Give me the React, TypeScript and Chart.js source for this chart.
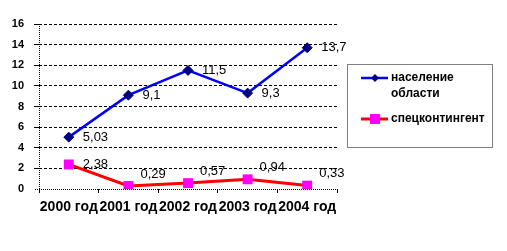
import React, { useEffect, useRef } from "react";
import { Chart, registerables } from "chart.js";

Chart.register(...registerables);

const categories = ["2000 год", "2001 год", "2002 год", "2003 год", "2004 год"];
const populationValues = [5.03, 9.1, 11.5, 9.3, 13.7];
const contingentValues = [2.38, 0.29, 0.57, 0.94, 0.33];
const populationName = ["население", "области"];
const contingentName = ["спецконтингент"];
const yMin = 0;
const yMax = 16;
const yStep = 2;

const FONT = "'Liberation Sans', Arial, sans-serif";
const fmt = (v: number) => String(v).replace(".", ",");

const overlayPlugin = {
  id: "overlay",
  beforeDatasetsDraw(chart: any) {
    const { ctx, chartArea } = chart;
    ctx.save();
    ctx.strokeStyle = "#000";
    ctx.lineWidth = 1;
    ctx.setLineDash([1, 1]);
    ctx.beginPath();
    ctx.moveTo(Math.round(chartArea.left) + 0.5, chartArea.top);
    ctx.lineTo(Math.round(chartArea.left) + 0.5, chartArea.bottom);
    ctx.moveTo(chartArea.left - 4, Math.round(chartArea.bottom) + 0.5);
    ctx.lineTo(chartArea.right, Math.round(chartArea.bottom) + 0.5);
    ctx.stroke();
    ctx.restore();
  },
  afterDatasetsDraw(chart: any) {
    const { ctx } = chart;
    ctx.save();
    ctx.fillStyle = "#000";
    ctx.font = `13px ${FONT}`;
    ctx.textAlign = "left";
    ctx.textBaseline = "middle";
    const m0 = chart.getDatasetMeta(0);
    m0.data.forEach((el: any, i: number) => {
      ctx.fillText(fmt(populationValues[i]), el.x + 14, el.y);
    });
    const m1 = chart.getDatasetMeta(1);
    m1.data.forEach((el: any, i: number) => {
      if (i === 0) ctx.fillText(fmt(contingentValues[i]), el.x + 14, el.y);
      else ctx.fillText(fmt(contingentValues[i]), el.x + 12, el.y - 12);
    });
    ctx.restore();
  },
  afterDraw(chart: any) {
    const { ctx } = chart;
    ctx.save();
    ctx.strokeStyle = "#000";
    ctx.lineWidth = 1;
    ctx.setLineDash([1, 1]);
    ctx.strokeRect(347.5, 64.5, 145, 83);
    ctx.setLineDash([]);
    ctx.strokeStyle = "#0000FF";
    ctx.lineWidth = 2.5;
    ctx.beginPath();
    ctx.moveTo(361, 78);
    ctx.lineTo(388, 78);
    ctx.stroke();
    ctx.fillStyle = "#000080";
    ctx.beginPath();
    ctx.moveTo(375, 74);
    ctx.lineTo(379, 78);
    ctx.lineTo(375, 82);
    ctx.lineTo(371, 78);
    ctx.closePath();
    ctx.fill();
    ctx.strokeStyle = "#FF0000";
    ctx.lineWidth = 3;
    ctx.beginPath();
    ctx.moveTo(361, 119);
    ctx.lineTo(388, 119);
    ctx.stroke();
    ctx.fillStyle = "#FF00FF";
    ctx.fillRect(370, 114, 10, 10);
    ctx.fillStyle = "#000";
    ctx.font = `bold 12px ${FONT}`;
    ctx.textAlign = "left";
    ctx.textBaseline = "middle";
    populationName.forEach((t, i) => ctx.fillText(t, 391, 78 + i * 16));
    contingentName.forEach((t, i) => ctx.fillText(t, 391, 119 + i * 16));
    ctx.restore();
  },
};

export default function App() {
  const ref = useRef<HTMLCanvasElement>(null);
  useEffect(() => {
    if (!ref.current) return;
    const chart = new Chart(ref.current, {
      type: "line",
      data: {
        labels: categories,
        datasets: [
          {
            label: populationName.join(" "),
            data: populationValues,
            borderColor: "#0000FF",
            borderWidth: 2.5,
            backgroundColor: "#000080",
            pointStyle: "rectRot",
            pointRadius: 5,
            pointBorderColor: "#000080",
            pointBackgroundColor: "#000080",
            pointBorderWidth: 1,
            tension: 0,
          },
          {
            label: contingentName.join(" "),
            data: contingentValues,
            borderColor: "#FF0000",
            borderWidth: 3,
            backgroundColor: "#FF00FF",
            pointStyle: "rect",
            pointRadius: 7,
            pointBorderColor: "#FF00FF",
            pointBackgroundColor: "#FF00FF",
            pointBorderWidth: 0,
            tension: 0,
          },
        ],
      },
      options: {
        responsive: false,
        animation: false,
        events: [],
        layout: { padding: { left: 0, top: 24, right: 170, bottom: 0 } },
        plugins: { legend: { display: false }, tooltip: { enabled: false } },
        scales: {
          x: {
            type: "category",
            offset: true,
            grid: {
              offset: true,
              drawOnChartArea: false,
              drawTicks: true,
              tickLength: 4,
              color: "#000",
            },
            border: { display: false },
            ticks: {
              color: "#000",
              font: { family: FONT, size: 14, weight: "bold" },
              padding: 6,
              maxRotation: 0,
              autoSkip: false,
            },
            afterFit: (s: any) => {
              s.height = 62;
            },
          },
          y: {
            min: yMin,
            max: yMax,
            ticks: {
              stepSize: yStep,
              color: "#000",
              font: { family: FONT, size: 11, weight: "bold" },
              padding: 10,
            },
            grid: {
              color: (c: any) => (c.tick && c.tick.value === 0 ? "rgba(0,0,0,0)" : "#000"),
              tickLength: 5,
              lineWidth: 1,
            },
            border: { display: false, dash: [3, 2] },
            afterFit: (s: any) => {
              s.width = 39;
            },
          },
        },
      },
      plugins: [overlayPlugin],
    } as any);
    return () => chart.destroy();
  }, []);
  return (
    <div style={{ position: "fixed", left: 0, top: 0, width: 507, height: 251, background: "#fff" }}>
      <canvas ref={ref} width={507} height={251} />
    </div>
  );
}
